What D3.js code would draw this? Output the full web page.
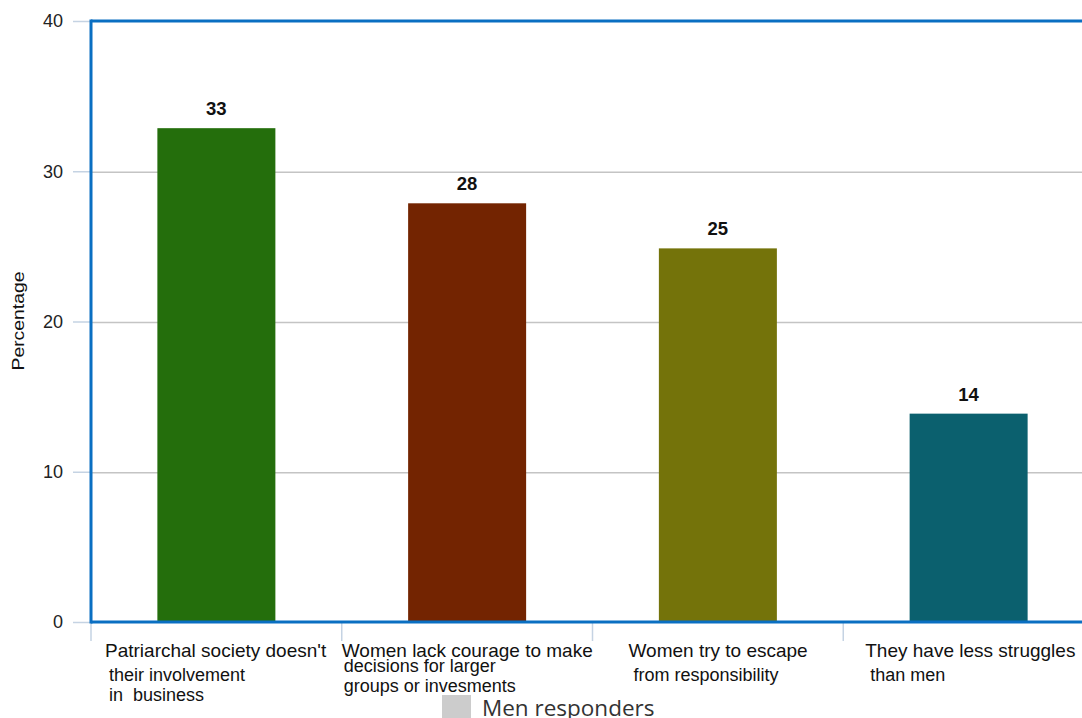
<!DOCTYPE html>
<html><head><meta charset="utf-8">
<script src="https://cdn.jsdelivr.net/npm/d3@7"></script>
<style>html,body{margin:0;padding:0;background:#fff;overflow:hidden}</style>
</head><body>
<svg id="c" width="1082" height="718"></svg>
<script>
const categories = [
  ["Patriarchal society doesn't", "their involvement", "in  business"],
  ["Women lack courage to make", "decisions for larger", "groups or invesments"],
  ["Women try to escape", "from responsibility"],
  ["They have less struggles", "than men"]
];
const values = [33, 28, 25, 14];
const colors = ["#246e0c", "#732401", "#74730a", "#0b606e"];
const yTicks = [0, 10, 20, 30, 40];
const yTitle = "Percentage";
const legendLabel = "Men responders";

(function(){
const svg = d3.select("#c");
const pL = 91, pR = 1094, pT = 21, pB = 622;
const x = d3.scaleBand().domain(d3.range(values.length)).range([pL, pR]).paddingInner(0).paddingOuter(0);
const y = d3.scaleLinear().domain([0, 40]).range([pB, pT]);
const barW = 118;
const FF = "Liberation Sans, Arial, sans-serif";

// grid lines
svg.append("g").selectAll("line").data(yTicks.filter(d => d > 0 && d < 40)).join("line")
  .attr("x1", pL).attr("x2", 1082).attr("y1", d => y(d) + 1).attr("y2", d => y(d) + 1)
  .attr("stroke", "#c4c4c4").attr("stroke-width", 1.3);

// y ticks
const yAxis = d3.axisLeft(y).tickValues(yTicks).tickSize(18).tickPadding(10);
const gy = svg.append("g").attr("transform", `translate(${pL},0)`).call(yAxis);
gy.select(".domain").remove();
gy.selectAll(".tick line").attr("stroke", "#c5d3e3").attr("stroke-width", 1.5);
gy.selectAll(".tick text").attr("font-family", FF).attr("font-size", 18).attr("fill", "#222");

// bars
svg.append("g").selectAll("rect").data(values).join("rect")
  .attr("x", (d, i) => x(i) + (x.bandwidth() - barW) / 2)
  .attr("width", barW)
  .attr("y", d => y(d) + 2).attr("height", d => pB - y(d) - 2)
  .attr("fill", (d, i) => colors[i]);

// value labels
svg.append("g").selectAll("text").data(values).join("text")
  .attr("x", (d, i) => x(i) + x.bandwidth() / 2)
  .attr("y", d => y(d) - 11)
  .attr("text-anchor", "middle")
  .attr("font-family", FF).attr("font-weight", "bold").attr("font-size", 18.5)
  .attr("fill", "#111").text(d => d);

// category ticks
svg.append("g").selectAll("line").data(d3.range(values.length)).join("line")
  .attr("x1", i => x(i)).attr("x2", i => x(i)).attr("y1", pB).attr("y2", 641)
  .attr("stroke", "#c5d3e3").attr("stroke-width", 1.5);

// frame: left, top, bottom
svg.append("line").attr("x1", pL).attr("x2", pL).attr("y1", pT - 1.5).attr("y2", pB + 1.5).attr("stroke", "#0a6fc2").attr("stroke-width", 3);
svg.append("line").attr("x1", pL).attr("x2", 1082).attr("y1", pT).attr("y2", pT).attr("stroke", "#0a6fc2").attr("stroke-width", 3);
svg.append("line").attr("x1", pL).attr("x2", 1082).attr("y1", pB).attr("y2", pB).attr("stroke", "#0a6fc2").attr("stroke-width", 3);

// category labels
const labelLayout = [
  [[14, 657], [18, 681], [18, 701]],
  [[0, 657], [2, 672], [2, 692]],
  [[36, 657], [41, 681]],
  [[22, 657], [27, 681]]
];
categories.forEach((lines, i) => {
  lines.forEach((t, j) => {
    svg.append("text")
      .attr("x", x(i) + labelLayout[i][j][0]).attr("y", labelLayout[i][j][1])
      .attr("font-family", FF)
      .attr("font-size", j === 0 ? 19 : 18).attr("fill", "#111")
      .style("white-space", "pre")
      .text(t);
  });
});

// y title
svg.append("text").attr("transform", "translate(24,321) rotate(-90)")
  .attr("text-anchor", "middle")
  .attr("font-family", FF).attr("font-size", 17).attr("fill", "#111")
  .attr("textLength", 99).attr("lengthAdjust", "spacingAndGlyphs")
  .text(yTitle);

// legend
svg.append("rect").attr("x", 442).attr("y", 695).attr("width", 29).attr("height", 25).attr("fill", "#cccccc");
svg.append("text").attr("x", 482).attr("y", 716)
  .attr("font-family", "Open Sans, sans-serif").attr("font-size", 22.5).attr("fill", "#333")
  .text(legendLabel);
})();
</script>
</body></html>
